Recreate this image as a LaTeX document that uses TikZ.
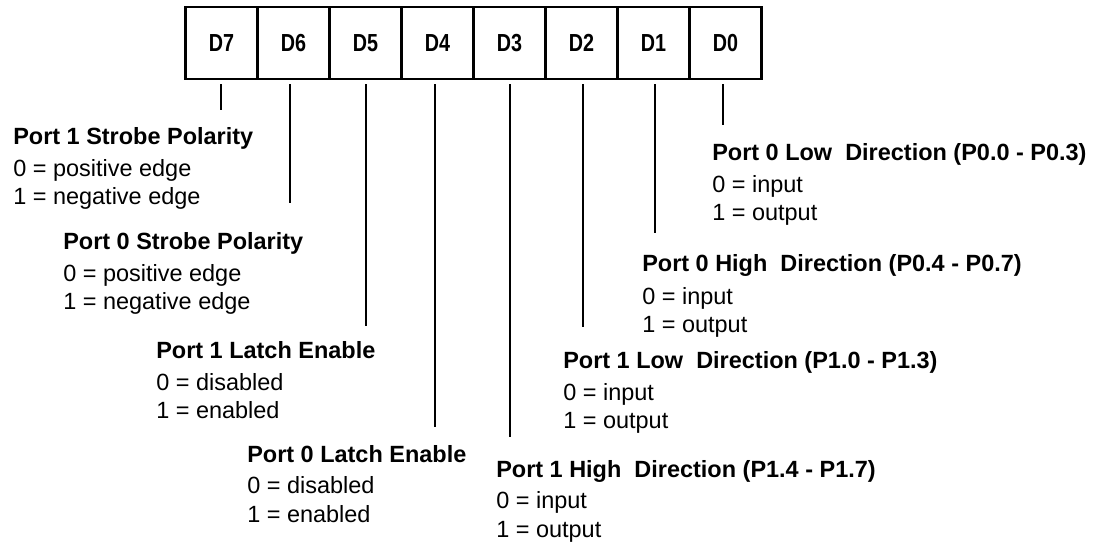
\documentclass[tikz,border=0pt]{standalone}
\usepackage{fontspec}
\setmainfont{Liberation Sans}
\usepackage{graphicx}
\tikzset{
  cell/.style={draw, line width=1.6pt, minimum width=54pt, minimum height=54pt, inner sep=0pt,
    font=\fontsize{18.5}{22}\selectfont\bfseries},
  ttl/.style={anchor=base west, inner sep=0pt, font=\fontsize{17.6}{21}\selectfont\bfseries},
  val/.style={anchor=base west, inner sep=0pt, font=\fontsize{17.6}{21}\selectfont},
  conn/.style={line width=0.8pt, shorten <=3pt},
}
\newcommand{\dlab}[1]{\scalebox{0.8}[1]{#1}}
\begin{document}
\begin{tikzpicture}[x=0.75pt,y=-0.75pt]
\useasboundingbox (0,0) rectangle (1096,544);
% register cells
\node[cell] (c7) at (221.5,43) {\dlab{D7}};
\node[cell] (c6) at (293.5,43) {\dlab{D6}};
\node[cell] (c5) at (365.5,43) {\dlab{D5}};
\node[cell] (c4) at (437.5,43) {\dlab{D4}};
\node[cell] (c3) at (509.5,43) {\dlab{D3}};
\node[cell] (c2) at (581.5,43) {\dlab{D2}};
\node[cell] (c1) at (653.5,43) {\dlab{D1}};
\node[cell] (c0) at (725.5,43) {\dlab{D0}};
% connector end points
\coordinate (e7) at (221,110);
\coordinate (e6) at (290,203);
\coordinate (e5) at (366,326);
\coordinate (e4) at (435,427);
\coordinate (e3) at (510,437);
\coordinate (e2) at (583,327);
\coordinate (e1) at (655,233);
\coordinate (e0) at (723,125);
\foreach \i in {0,...,7}{
  \draw[conn] (c\i.south -| e\i) -- (e\i);
}
% D7
\node[ttl] (t7) at (13,144) {Port 1 Strobe Polarity};
\node[val] (a7) at (13,176) {0 = positive edge};
\node[val] (b7) at (13,204) {1 = negative edge};
% D6
\node[ttl] (t6) at (63,249) {Port 0 Strobe Polarity};
\node[val] (a6) at (63,281) {0 = positive edge};
\node[val] (b6) at (63,309) {1 = negative edge};
% D5
\node[ttl] (t5) at (156,358) {Port 1 Latch Enable};
\node[val] (a5) at (156,390) {0 = disabled};
\node[val] (b5) at (156,418) {1 = enabled};
% D4
\node[ttl] (t4) at (247,462) {Port 0 Latch Enable};
\node[val] (a4) at (247,493) {0 = disabled};
\node[val] (b4) at (247,522) {1 = enabled};
% D3
\node[ttl] (t3) at (496,477) {Port 1 High\ \ Direction (P1.4 - P1.7)};
\node[val] (a3) at (496,508) {0 = input};
\node[val] (b3) at (496,537) {1 = output};
% D2
\node[ttl] (t2) at (563,368) {Port 1 Low\ \ Direction (P1.0 - P1.3)};
\node[val] (a2) at (563,400) {0 = input};
\node[val] (b2) at (563,428) {1 = output};
% D1
\node[ttl] (t1) at (642,271) {Port 0 High\ \ Direction (P0.4 - P0.7)};
\node[val] (a1) at (642,304) {0 = input};
\node[val] (b1) at (642,332) {1 = output};
% D0
\node[ttl] (t0) at (712,160) {Port 0 Low\ \ Direction (P0.0 - P0.3)};
\node[val] (a0) at (712,192) {0 = input};
\node[val] (b0) at (712,220) {1 = output};
\end{tikzpicture}
\end{document}
